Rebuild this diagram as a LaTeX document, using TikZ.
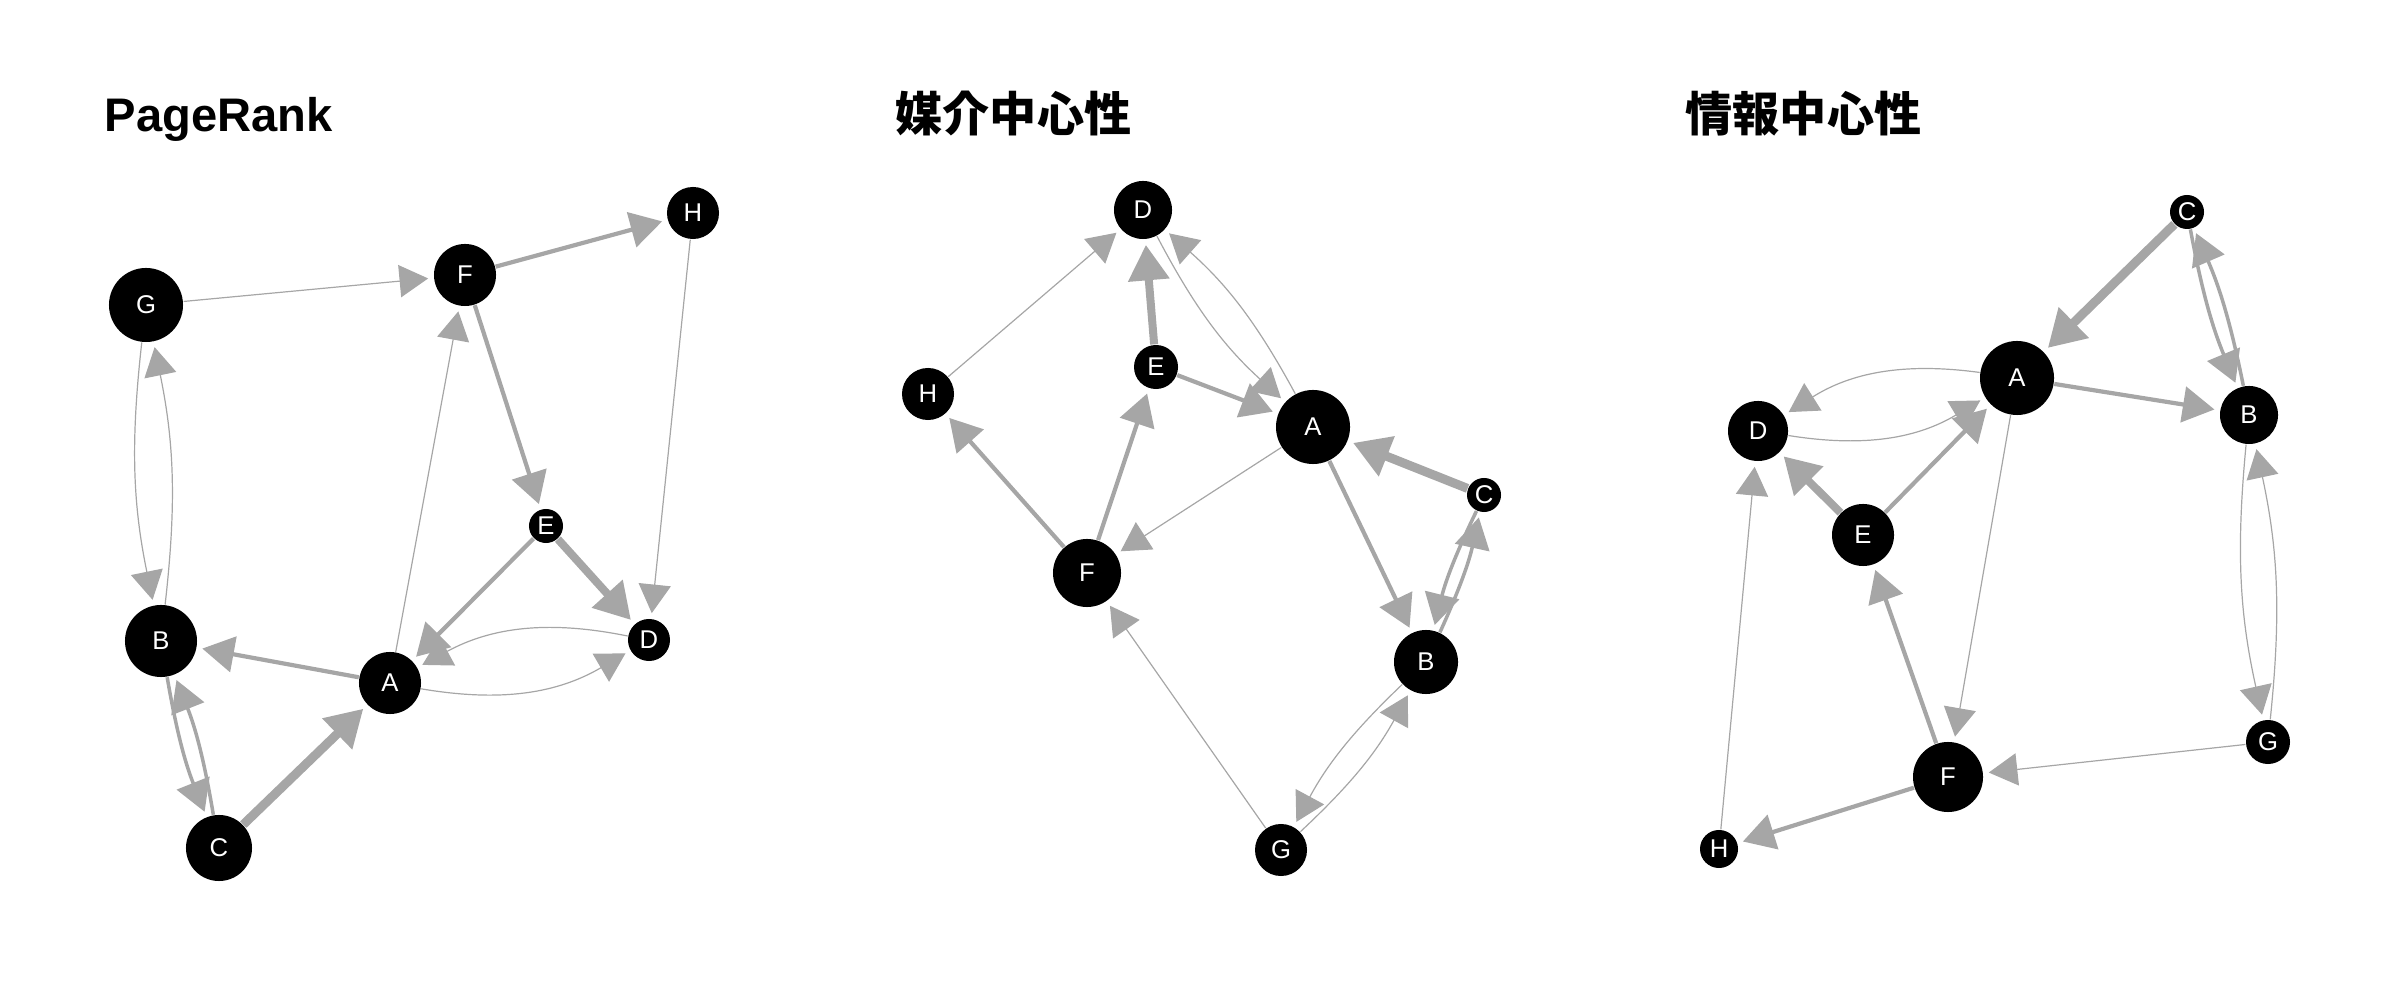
\documentclass[tikz,border=0pt]{standalone}
\usepackage{fontspec}
\setmainfont{Liberation Sans}
\newfontfamily\jpfont{Noto Sans CJK JP}
\usepackage{tikz}
\usetikzlibrary{arrows.meta}
\definecolor{edgegray}{HTML}{A6A6A6}
\newcommand{\lbl}{\fontsize{7.3pt}{8pt}\selectfont}
\newcommand{\ttl}{\fontsize{13.4pt}{16pt}\selectfont\bfseries}

\begin{document}
\begin{tikzpicture}[->,>={Triangle[length=7.8pt 1.0,width=8.8pt 1.1]},shorten >=1.5pt,
                    x=0.01cm,y=-0.01cm,every edge/.append style={edgegray}]
  \tikzstyle{vertex}=[circle,fill=black,text=white,inner sep=0pt,font=\lbl]
  \tikzstyle{title}=[anchor=base west,inner sep=0pt,text=black,font=\ttl]
  \tikzstyle{light}=[line width=0.12mm]
  \tikzstyle{pair}=[line width=0.35mm]
  \tikzstyle{medium}=[line width=0.42mm]
  \tikzstyle{strong}=[line width=0.8mm]
  \tikzstyle{heavy}=[line width=0.9mm]

  \useasboundingbox (0,0) rectangle (2400,998);

  % PageRank
  \node[title] (t1) at (104,132) {PageRank};
  \node[vertex,minimum size=7.4mm] (G1) at (146,305) {G};
  \node[vertex,minimum size=6.2mm] (F1) at (465,275) {F};
  \node[vertex,minimum size=5.2mm] (H1) at (693,213) {H};
  \node[vertex,minimum size=3.4mm] (E1) at (546,526) {E};
  \node[vertex,minimum size=4.2mm] (D1) at (649,640) {D};
  \node[vertex,minimum size=7.2mm] (B1) at (161,641) {B};
  \node[vertex,minimum size=6.2mm] (A1) at (390,683) {A};
  \node[vertex,minimum size=6.6mm] (C1) at (219,848) {C};

  \path (G1) edge [light] (F1)
        (F1) edge [medium] (H1)
        (H1) edge [light] (D1)
        (F1) edge [medium] (E1)
        (E1) edge [strong] (D1)
        (E1) edge [medium] (A1)
        (A1) edge [light] (F1)
        (A1) edge [medium] (B1)
        (A1) edge [light,bend right=20] (D1)
        (D1) edge [light,bend right=20] (A1)
        (G1) edge [light,bend right=9] (B1)
        (B1) edge [light,bend right=9] (G1)
        (B1) edge [pair,bend right=6] (C1)
        (C1) edge [pair,bend right=6] (B1)
        (C1) edge [heavy] (A1);

  % betweenness
  \node[title] (t2) at (895,132) {\jpfont 媒介中心性};
  \node[vertex,minimum size=5.8mm] (D2) at (1143,210) {D};
  \node[vertex,minimum size=4.4mm] (E2) at (1156,367) {E};
  \node[vertex,minimum size=5.2mm] (H2) at (928,394) {H};
  \node[vertex,minimum size=7.4mm] (A2) at (1313,427) {A};
  \node[vertex,minimum size=3.4mm] (C2) at (1484,495) {C};
  \node[vertex,minimum size=6.8mm] (F2) at (1087,573) {F};
  \node[vertex,minimum size=6.4mm] (B2) at (1426,662) {B};
  \node[vertex,minimum size=5.2mm] (G2) at (1281,850) {G};

  \path (G2) edge [light] (F2)
        (F2) edge [medium] (H2)
        (H2) edge [light] (D2)
        (F2) edge [medium] (E2)
        (E2) edge [strong] (D2)
        (E2) edge [medium] (A2)
        (A2) edge [light] (F2)
        (A2) edge [medium] (B2)
        (A2) edge [light,bend right=10] (D2)
        (D2) edge [light,bend right=10] (A2)
        (G2) edge [light,bend right=9] (B2)
        (B2) edge [light,bend right=9] (G2)
        (B2) edge [pair,bend right=6] (C2)
        (C2) edge [pair,bend right=6] (B2)
        (C2) edge [heavy] (A2);

  % information
  \node[title] (t3) at (1685,132) {\jpfont 情報中心性};
  \node[vertex,minimum size=3.4mm] (C3) at (2187,212) {C};
  \node[vertex,minimum size=7.4mm] (A3) at (2017,378) {A};
  \node[vertex,minimum size=6.0mm] (D3) at (1758,431) {D};
  \node[vertex,minimum size=5.8mm] (B3) at (2249,415) {B};
  \node[vertex,minimum size=6.2mm] (E3) at (1863,535) {E};
  \node[vertex,minimum size=7.0mm] (F3) at (1948,777) {F};
  \node[vertex,minimum size=4.4mm] (G3) at (2268,742) {G};
  \node[vertex,minimum size=3.8mm] (H3) at (1719,849) {H};

  \path (G3) edge [light] (F3)
        (F3) edge [medium] (H3)
        (H3) edge [light] (D3)
        (F3) edge [medium] (E3)
        (E3) edge [strong] (D3)
        (E3) edge [medium] (A3)
        (A3) edge [light] (F3)
        (A3) edge [medium] (B3)
        (A3) edge [light,bend right=20] (D3)
        (D3) edge [light,bend right=20] (A3)
        (G3) edge [light,bend right=9] (B3)
        (B3) edge [light,bend right=9] (G3)
        (B3) edge [pair,bend right=6] (C3)
        (C3) edge [pair,bend right=6] (B3)
        (C3) edge [heavy] (A3);
\end{tikzpicture}
\end{document}
